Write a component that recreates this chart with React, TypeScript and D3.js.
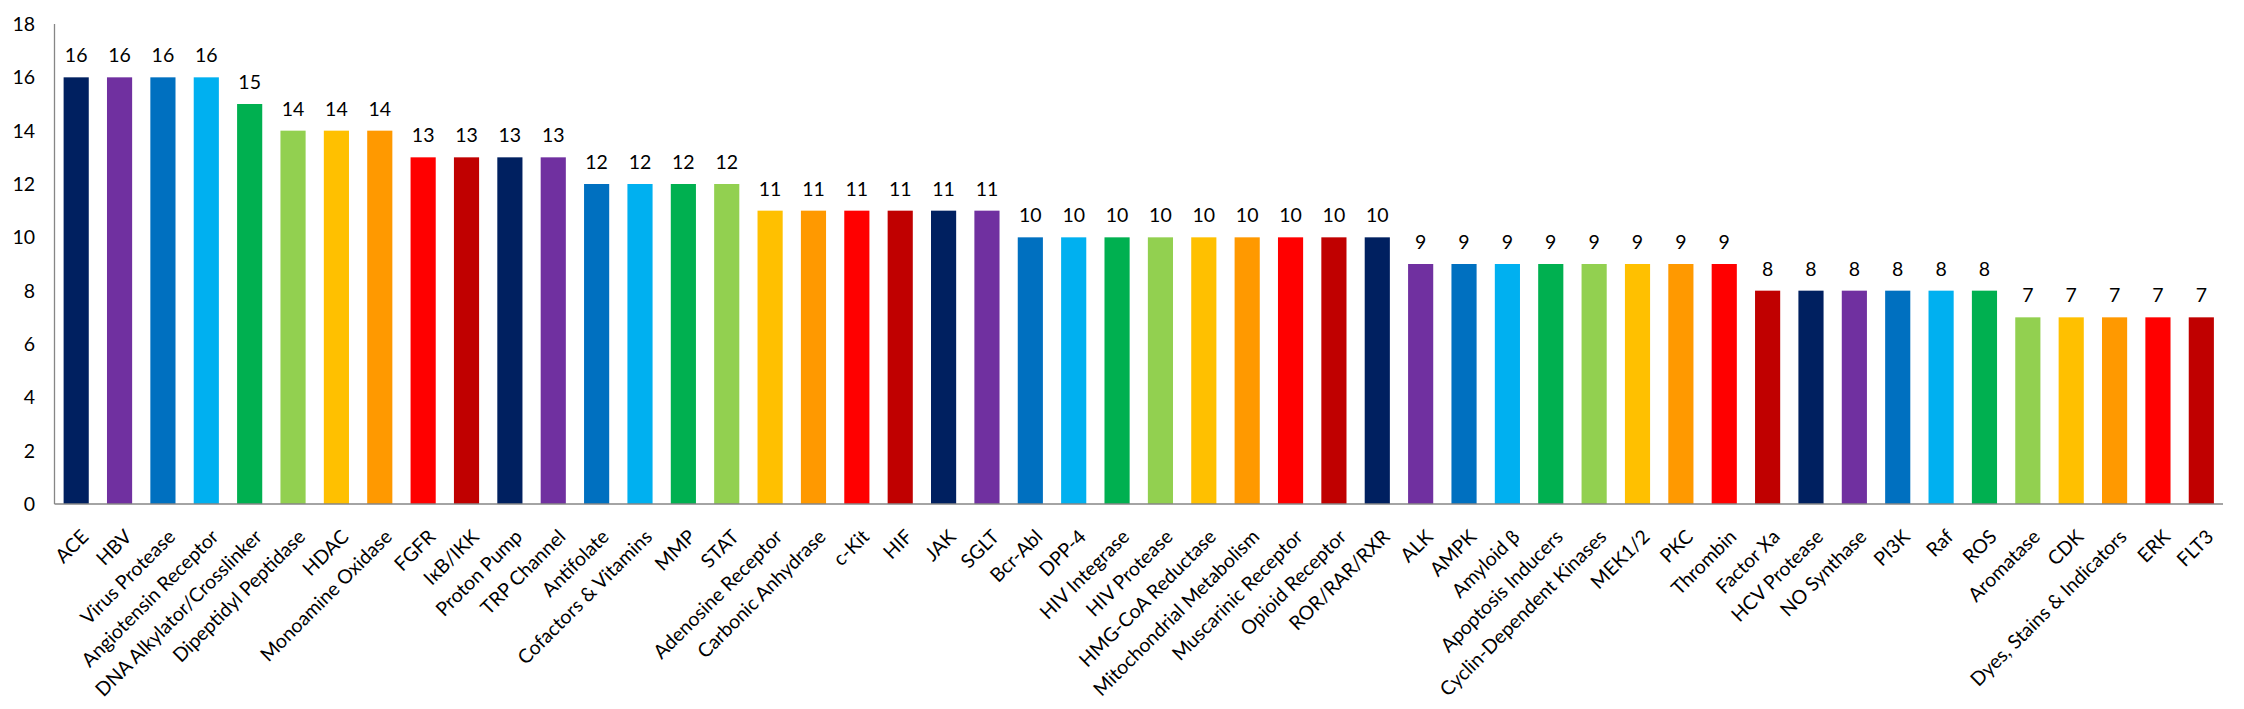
import React, { useEffect, useRef } from "react";
import * as d3 from "d3";

const categories: string[] = [
  "ACE", "HBV", "Virus Protease", "Angiotensin Receptor", "DNA Alkylator/Crosslinker",
  "Dipeptidyl Peptidase", "HDAC", "Monoamine Oxidase", "FGFR", "IκB/IKK",
  "Proton Pump", "TRP Channel", "Antifolate", "Cofactors & Vitamins", "MMP",
  "STAT", "Adenosine Receptor", "Carbonic Anhydrase", "c-Kit", "HIF",
  "JAK", "SGLT", "Bcr-Abl", "DPP-4", "HIV Integrase",
  "HIV Protease", "HMG-CoA Reductase", "Mitochondrial Metabolism", "Muscarinic Receptor", "Opioid Receptor",
  "ROR/RAR/RXR", "ALK", "AMPK", "Amyloid β", "Apoptosis Inducers",
  "Cyclin-Dependent Kinases", "MEK1/2", "PKC", "Thrombin", "Factor Xa",
  "HCV Protease", "NO Synthase", "PI3K", "Raf", "ROS",
  "Aromatase", "CDK", "Dyes, Stains & Indicators", "ERK", "FLT3",
];

const values: number[] = [
  16, 16, 16, 16, 15, 14, 14, 14, 13, 13,
  13, 13, 12, 12, 12, 12, 11, 11, 11, 11,
  11, 11, 10, 10, 10, 10, 10, 10, 10, 10,
  10, 9, 9, 9, 9, 9, 9, 9, 9, 8,
  8, 8, 8, 8, 8, 7, 7, 7, 7, 7,
];

const palette: string[] = [
  "#002060", "#7030A0", "#0070C0", "#00B0F0", "#00B050",
  "#92D050", "#FFC000", "#FF9900", "#FF0000", "#C00000",
];

const yTicks: number[] = [0, 2, 4, 6, 8, 10, 12, 14, 16, 18];

const W = 2244;
const H = 709;
const FONT = "Lato, 'Open Sans', sans-serif";
const FS = 19.5;

export default function App() {
  const ref = useRef<SVGSVGElement | null>(null);

  useEffect(() => {
    document.body.style.margin = "0";
    const svg = d3.select(ref.current);
    svg.selectAll("*").remove();

    const left = 54.5;
    const right = 2223;
    const top = 24;
    const bottom = 504;

    const x = d3.scaleBand<string>().domain(categories).range([left, right]).paddingInner(0.42).paddingOuter(0.21);
    const y = d3.scaleLinear().domain([0, 18]).range([bottom, top]);

    const data = categories.map((c, i) => ({ c, v: values[i], color: palette[i % palette.length] }));

    svg.append("g")
      .selectAll("rect")
      .data(data)
      .join("rect")
      .attr("x", (d) => x(d.c)!)
      .attr("y", (d) => y(d.v))
      .attr("width", x.bandwidth())
      .attr("height", (d) => y(0) - y(d.v))
      .attr("fill", (d) => d.color);

    // value labels
    svg.append("g")
      .selectAll("text")
      .data(data)
      .join("text")
      .attr("x", (d) => x(d.c)! + x.bandwidth() / 2)
      .attr("y", (d) => y(d.v) - 15)
      .attr("text-anchor", "middle")
      .attr("font-family", FONT)
      .attr("font-size", FS)
      .attr("fill", "#000")
      .text((d) => String(d.v));

    // axes lines
    svg.append("line")
      .attr("x1", left).attr("x2", left)
      .attr("y1", top).attr("y2", bottom)
      .attr("stroke", "#868686").attr("stroke-width", 1.3);
    svg.append("line")
      .attr("x1", left).attr("x2", right)
      .attr("y1", bottom).attr("y2", bottom)
      .attr("stroke", "#868686").attr("stroke-width", 1.3);

    // y tick labels
    svg.append("g")
      .selectAll("text")
      .data(yTicks)
      .join("text")
      .attr("x", 35)
      .attr("y", (d) => y(d))
      .attr("dy", "0.36em")
      .attr("text-anchor", "end")
      .attr("font-family", FONT)
      .attr("font-size", FS)
      .attr("fill", "#000")
      .text((d) => String(d));

    // x category labels
    svg.append("g")
      .selectAll("text")
      .data(data)
      .join("text")
      .attr("transform", (d) => `translate(${x(d.c)! + x.bandwidth() / 2 + 13.5},${bottom + 34}) rotate(-45)`)
      .attr("text-anchor", "end")
      .attr("font-family", FONT)
      .attr("font-size", FS)
      .attr("fill", "#000")
      .text((d) => d.c);
  }, []);

  return (
    <div style={{ position: "absolute", left: 0, top: 0 }}>
      <svg ref={ref} width={W} height={H} style={{ display: "block", background: "#fff" }} />
    </div>
  );
}
